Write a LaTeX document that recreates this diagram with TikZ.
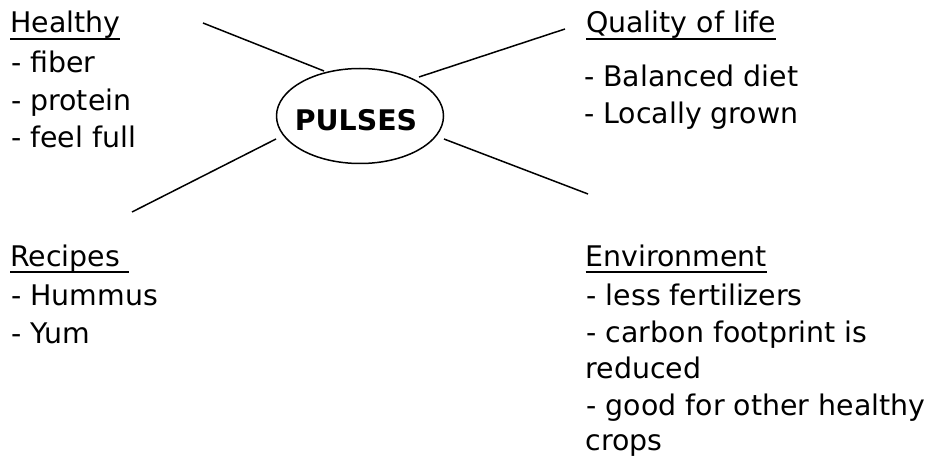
\documentclass[tikz,border=0pt]{standalone}
\usepackage{fontspec}
\setmainfont{DejaVu Sans}
\usetikzlibrary{shapes.geometric}
\newcommand\myul[1]{\setbox0\hbox{#1}\rlap{\rule[-7.5pt]{\wd0}{2.4pt}}\box0}
\tikzset{
  txt/.style={anchor=base west, inner sep=0pt, font=\fontsize{28.4}{34}\selectfont},
  hubbox/.style={draw, ellipse, line width=1.5pt, minimum width=167pt, minimum height=95pt, inner sep=0pt},
  spoke/.style={line width=1.5pt}
}
\begin{document}
\begin{tikzpicture}[x=1pt,y=-1pt]
\useasboundingbox (0,0) rectangle (931,462);
% hub
\node[hubbox] (hub) at (360,116) {};
\node[anchor=base, inner sep=0pt, font=\fontsize{28.4}{34}\selectfont\bfseries] (title) at (356,131) {PULSES};
% spoke ends
\coordinate (a1) at (203,23);  \coordinate (a2) at (324,71);
\coordinate (b1) at (276,139); \coordinate (b2) at (132,212);
\coordinate (c1) at (419,77);  \coordinate (c2) at (565,29);
\coordinate (d1) at (444,139); \coordinate (d2) at (588,194);
\draw[spoke] (a1) -- (a2);
\draw[spoke] (b1) -- (b2);
\draw[spoke] (c1) -- (c2);
\draw[spoke] (d1) -- (d2);
% Healthy
\node[txt] (h0) at (10,33) {\myul{Healthy}};
\node[txt] (h1) at (11,72.5) {- fiber};
\node[txt] (h2) at (11,110.5) {- protein};
\node[txt] (h3) at (11,148) {- feel full};
% Quality of life
\node[txt] (q0) at (586,33) {\myul{Quality of life}};
\node[txt] (q1) at (584,87) {- Balanced diet};
\node[txt] (q2) at (584,124) {- Locally grown};
% Recipes
\node[txt] (r0) at (10,266) {\myul{Recipes\ }};
\node[txt] (r1) at (11,305) {- Hummus};
\node[txt] (r2) at (11,343) {- Yum};
% Environment
\node[txt] (e0) at (585.5,266) {\myul{Environment}};
\node[txt] (e1) at (586.5,305) {- less fertilizers};
\node[txt] (e2) at (586.5,342) {- carbon footprint is};
\node[txt] (e3) at (585.5,378) {reduced};
\node[txt] (e4) at (586.5,415) {- good for other healthy};
\node[txt] (e5) at (585.5,450) {crops};
\end{tikzpicture}
\end{document}
